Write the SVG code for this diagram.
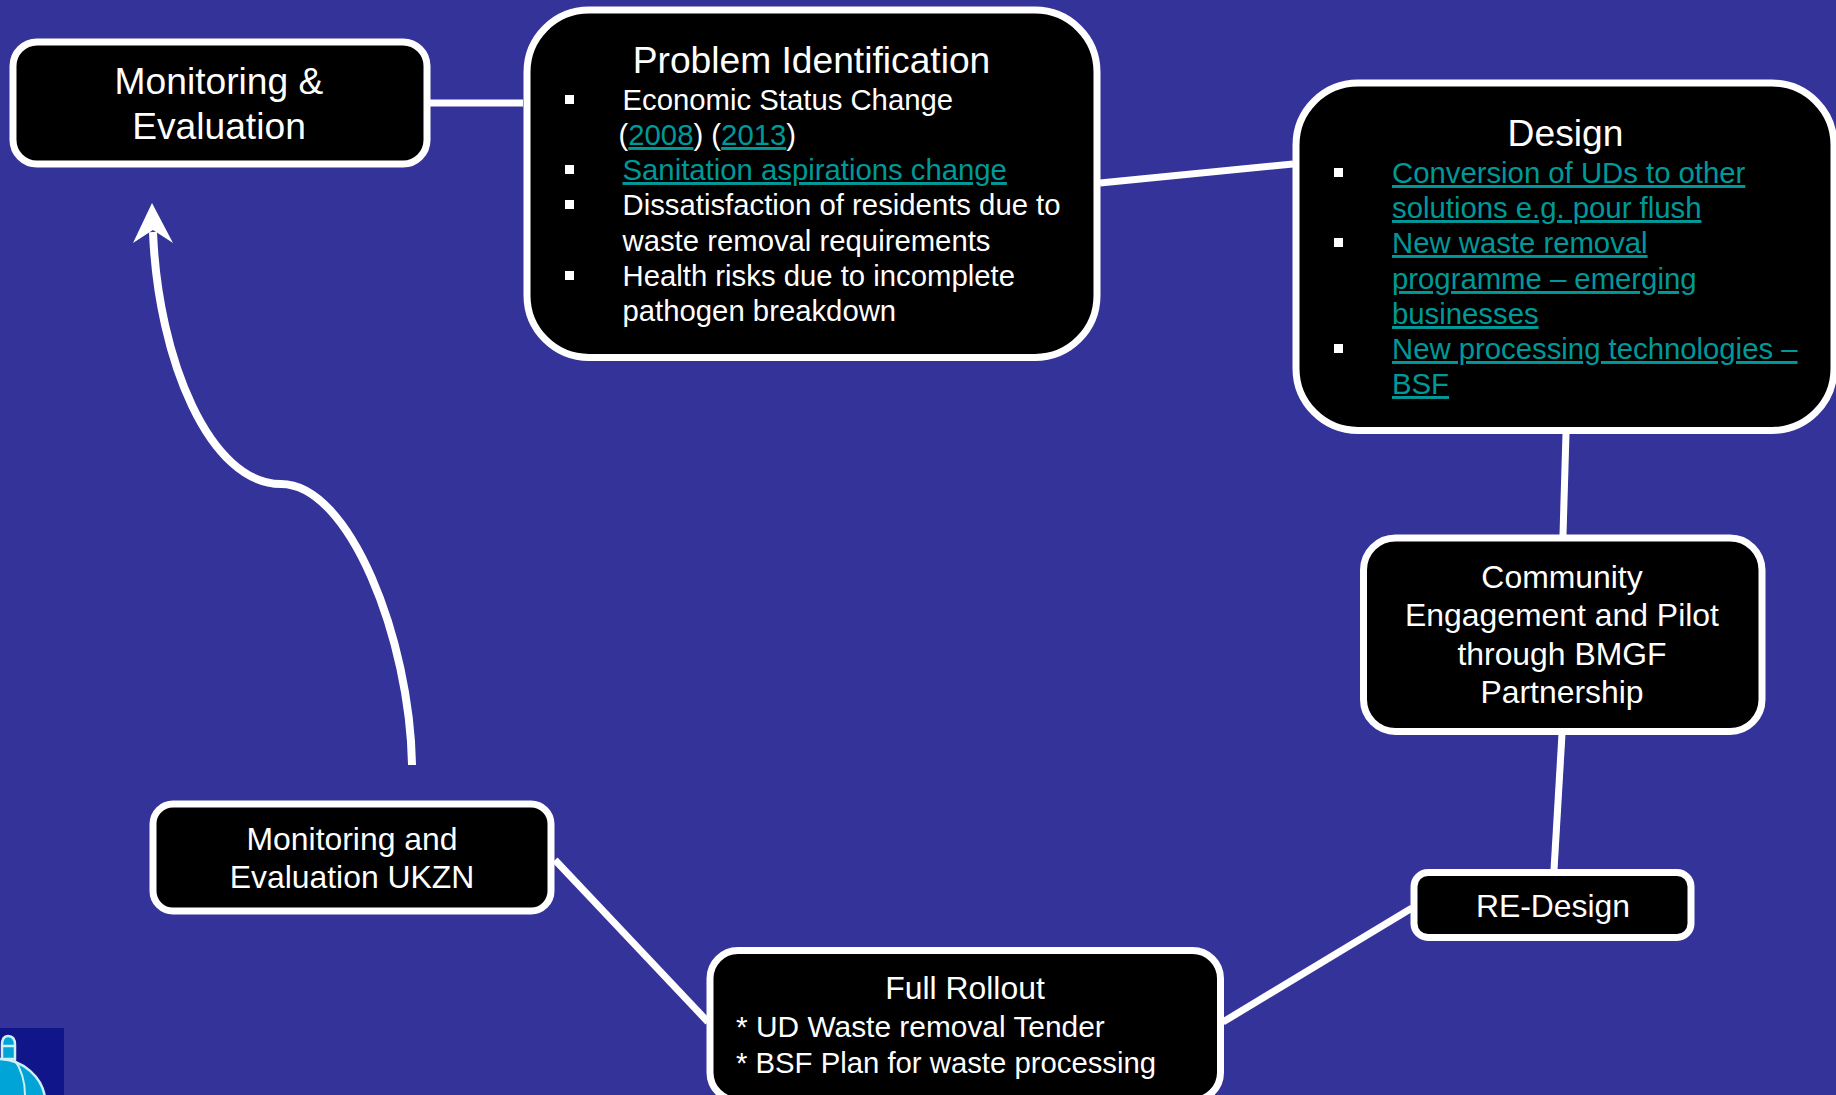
<svg xmlns="http://www.w3.org/2000/svg" width="1836" height="1095" viewBox="0 0 1836 1095">
<defs><style>
.n{fill:#000;stroke:#fff;stroke-width:7}
.c{fill:none;stroke:#fff;stroke-width:7}
text{font-family:"Liberation Sans",Arial,sans-serif;fill:#fff}
.t{font-size:37.2px;text-anchor:middle}
.m{font-size:31.9px;text-anchor:middle}
.b{font-size:29.3px}
.l{fill:#009999;text-decoration:underline}
.s{fill:#fff}
</style></defs>
<rect width="1836" height="1095" fill="#333399"/>
<g id="logo"><rect x="0" y="1028" width="64" height="67" fill="#10168a"/>
<path d="M2 1059V1045C2 1038 5 1036 8 1036C12 1036 15 1038 15 1045V1059Z" fill="#00a4d6" stroke="#cfeff5" stroke-width="2.500"/>
<path d="M2 1046H15" stroke="#cfeff5" stroke-width="2.500"/>
<path d="M-2 1059C24 1059 42 1078 45 1097H-2Z" fill="#00a4d6" stroke="#cfeff5" stroke-width="2.500"/>
<path d="M14 1059C22 1070 25 1082 25 1095" fill="none" stroke="#cfeff5" stroke-width="2"/></g>
<g id="connectors">
<path class="c" d="M430 103H523"/>
<path class="c" d="M1100 183L1293 164"/>
<path class="c" d="M1566 433L1563 535"/>
<path class="c" d="M1562 734L1554 870"/>
<path class="c" d="M1412 908L1223 1022"/>
<path class="c" d="M708 1022L555 860"/>
<path class="c" style="stroke-width:8" d="M412 765C410 640 350 484 281 484C210 484 158 360 153 232"/>
<path d="M152 203L173 243L153 230L133 243Z" fill="#fff"/>
</g>
<g id="node-monitoring-evaluation"><rect class="n" x="13" y="42" width="414" height="122" rx="24"/>
<text class="t" x="219" y="94">Monitoring &amp;</text><text class="t" x="219" y="139">Evaluation</text></g>
<g id="node-problem"><rect class="n" x="527" y="10" width="570" height="347.500" rx="62"/>
<text class="t" x="811.500" y="73">Problem Identification</text>
<rect class="s" x="565" y="95" width="9" height="9"/><rect class="s" x="565" y="165" width="9" height="9"/><rect class="s" x="565" y="200" width="9" height="9"/><rect class="s" x="565" y="271" width="9" height="9"/>
<text class="b" x="622.500" y="110">Economic Status Change</text>
<text class="b" x="618.500" y="145">(<tspan class="l">2008</tspan>) (<tspan class="l">2013</tspan>)</text>
<text class="b l" x="622.500" y="180">Sanitation aspirations change</text>
<text class="b" x="622.500" y="215">Dissatisfaction of residents due to</text>
<text class="b" x="622.500" y="251">waste removal requirements</text>
<text class="b" x="622.500" y="286">Health risks due to incomplete</text>
<text class="b" x="622.500" y="321">pathogen breakdown</text></g>
<g id="node-design"><rect class="n" x="1296" y="83" width="538" height="347.500" rx="62"/>
<text class="t" x="1565.500" y="146">Design</text>
<rect class="s" x="1334" y="168" width="9" height="9"/><rect class="s" x="1334" y="238" width="9" height="9"/><rect class="s" x="1334" y="344" width="9" height="9"/>
<text class="b l" x="1392" y="183">Conversion of UDs to other</text>
<text class="b l" x="1392" y="218">solutions e.g. pour flush</text>
<text class="b l" x="1392" y="253">New waste removal</text>
<text class="b l" x="1392" y="289">programme – emerging</text>
<text class="b l" x="1392" y="324">businesses</text>
<text class="b l" x="1392" y="359">New processing technologies –</text>
<text class="b l" x="1392" y="394">BSF</text></g>
<g id="node-community"><rect class="n" x="1363.500" y="538" width="398.500" height="193.500" rx="32"/>
<text class="m" x="1562" y="587.500">Community</text><text class="m" x="1562" y="625.500">Engagement and Pilot</text><text class="m" x="1562" y="664.500">through BMGF</text><text class="m" x="1562" y="703">Partnership</text></g>
<g id="node-redesign"><rect class="n" x="1414" y="872.500" width="277" height="65" rx="14"/>
<text class="m" x="1553" y="917">RE-Design</text></g>
<g id="node-full-rollout"><rect class="n" x="710" y="950.500" width="510.500" height="150" rx="28"/>
<text class="m" x="965" y="998.500">Full Rollout</text>
<text class="b" style="font-size:29.9px" x="736" y="1036.500">* UD Waste removal Tender</text>
<text class="b" style="font-size:29.3px" x="736" y="1072.500">* BSF Plan for waste processing</text></g>
<g id="node-monitoring-ukzn"><rect class="n" x="153" y="804" width="398" height="107" rx="20"/>
<text class="m" x="352" y="849.500">Monitoring and</text><text class="m" x="352" y="888">Evaluation UKZN</text></g>
</svg>
